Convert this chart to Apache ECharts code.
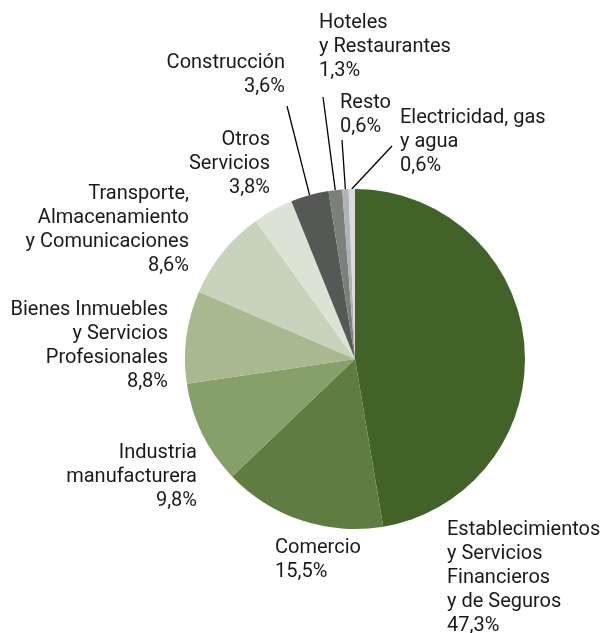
<!DOCTYPE html>
<html>
<head>
<meta charset="utf-8">
<script src="https://cdn.jsdelivr.net/npm/echarts@6/dist/echarts.min.js"></script>
<style>
html,body{margin:0;padding:0;background:#fff;}
#chart{width:603px;height:633px;}
</style>
</head>
<body>
<div id="chart"></div>
<script>
const categories = [
  "Establecimientos\ny Servicios\nFinancieros\ny de Seguros",
  "Comercio",
  "Industria\nmanufacturera",
  "Bienes Inmuebles\ny Servicios\nProfesionales",
  "Transporte,\nAlmacenamiento\ny Comunicaciones",
  "Otros\nServicios",
  "Construcción",
  "Hoteles\ny Restaurantes",
  "Resto",
  "Electricidad, gas\ny agua"
];
const shares = [47.3, 15.5, 9.8, 8.8, 8.6, 3.8, 3.6, 1.3, 0.6, 0.6];

const colors = ["#426328", "#5f7d40", "#87a06a", "#a8b990", "#c8d3bb", "#dde3d4", "#555854", "#7a807a", "#aeb2b5", "#d8dadd"];
// label layout: [x, top y, align, leader line end or null]
const labelLayout = [
  [447, 518, "left", null],
  [275, 536, "left", null],
  [197, 441, "right", null],
  [168, 298, "right", null],
  [189, 182, "right", null],
  [270, 128, "right", null],
  [285, 51, "right", [287, 106]],
  [319, 11, "left", [323, 97]],
  [340, 91, "left", [342, 140]],
  [400, 106, "left", [392, 146]]
];

const chart = echarts.init(document.getElementById('chart'), null, {renderer: 'canvas'});
const data = categories.map((c, i) => ({
  name: c,
  value: shares[i],
  itemStyle: {color: colors[i]},
  labelLine: {show: !!labelLayout[i][3]}
}));
chart.setOption({
  animation: false,
  series: [{
    type: 'pie',
    center: [355, 359],
    radius: [0, 170],
    startAngle: 90,
    clockwise: true,
    data: data,
    label: {
      show: true,
      position: 'outside',
      fontFamily: 'Roboto',
      fontSize: 20,
      lineHeight: 24,
      color: '#1a1a1a',
      overflow: 'none',
      formatter: p => p.name + '\n' + String(p.value).replace('.', ',') + '%'
    },
    labelLine: {lineStyle: {color: '#000', width: 1.3}, length: 10, length2: 10},
    labelLayout: function (params) {
      const L = labelLayout[params.dataIndex];
      const res = {x: L[0], y: L[1], align: L[2], verticalAlign: 'top', width: 300};
      if (L[3] && params.labelLinePoints) {
        const s = params.labelLinePoints[0];
        res.labelLinePoints = [[s[0], s[1]], L[3], L[3]];
      }
      return res;
    }
  }]
});
</script>
</body>
</html>
